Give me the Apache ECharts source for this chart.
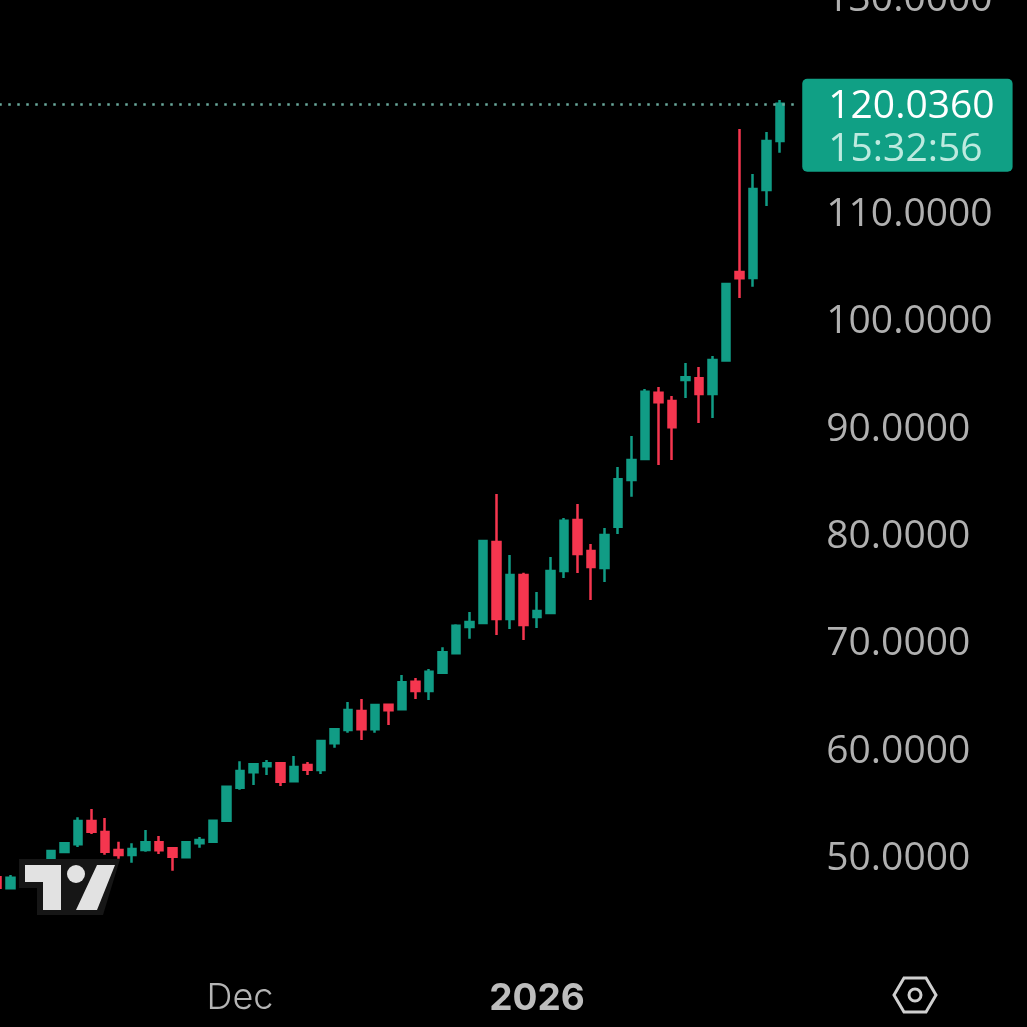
<!DOCTYPE html>
<html>
<head>
<meta charset="utf-8">
<style>
  html, body { margin: 0; padding: 0; background: #000; }
  #chart { width: 1027px; height: 1027px; }
</style>
<script src="https://cdn.jsdelivr.net/npm/echarts@6/dist/echarts.min.js"></script>
</head>
<body>
<div id="chart"></div>
<script>
// trading days, Nov 3 to Jan 29, last slot is the empty gap before the price scale
var dates = [
  '11-03','11-04','11-05','11-06','11-07','11-10','11-11','11-12','11-13','11-14',
  '11-17','11-18','11-19','11-20','11-21','11-24','11-25','11-26','12-01','12-02',
  '12-03','12-04','12-05','12-08','12-09','12-10','12-11','12-12','12-15','12-16',
  '12-17','12-18','12-19','12-22','12-23','12-24','12-26','12-29','12-30','12-31',
  '01-02','01-05','01-06','01-07','01-08','01-09','01-12','01-13','01-14','01-15',
  '01-16','01-20','01-21','01-22','01-23','01-26','01-27','01-28','01-29',''
];
var opens = [
  48.02,46.99,47.77,48.60,49.75,50.37,51.09,53.26,52.23,50.56,
  50.09,50.56,51.28,50.72,49.88,51.18,51.33,53.29,56.36,57.79,
  58.35,58.63,56.96,58.47,58.01,60.49,61.73,63.50,61.80,64.09,
  63.66,66.23,65.36,67.07,68.87,71.32,71.69,79.24,72.07,76.16,
  72.25,72.63,76.54,81.29,78.40,76.82,80.66,85.01,86.96,93.14,
  92.36,94.32,94.48,93.02,96.14,104.38,103.82,112.01,116.57
];
var closes = [
  47.05,47.98,48.70,49.44,50.47,51.18,53.26,52.26,50.40,50.09,
  50.65,51.28,50.53,49.93,51.28,51.49,53.29,56.45,57.91,58.54,
  58.63,56.92,58.29,58.04,60.71,61.80,63.59,61.80,64.06,63.57,
  66.17,65.36,67.16,68.97,71.44,71.79,79.33,72.07,76.16,71.51,
  72.81,76.54,81.22,78.12,76.91,79.89,85.07,86.87,93.23,92.24,
  89.92,94.57,93.02,96.18,103.26,103.79,112.10,116.57,120.036
];
var lows = [
  46.93,46.93,47.58,48.42,49.72,50.28,50.84,52.05,50.12,49.75,
  49.38,50.40,50.19,48.63,49.79,50.77,51.30,53.26,56.17,56.61,
  57.54,56.52,56.89,57.54,57.63,60.08,61.48,60.80,61.48,62.20,
  63.59,64.62,64.53,67.04,68.81,70.23,71.65,70.58,71.14,70.11,
  71.23,72.58,75.88,76.35,73.84,75.51,79.98,83.45,86.90,86.41,
  86.87,92.64,90.32,90.78,96.09,101.96,103.01,110.52,115.49
];
var highs = [
  48.14,48.23,48.88,49.53,50.56,51.21,53.60,54.38,53.54,51.33,
  51.18,52.42,51.86,50.84,51.37,51.77,53.35,56.52,58.82,58.66,
  58.94,58.75,59.31,58.75,60.80,61.92,64.34,64.62,64.15,64.15,
  66.85,66.57,67.41,69.43,71.57,72.72,79.38,83.71,78.03,76.38,
  74.58,77.84,81.47,82.78,79.05,80.54,86.22,89.11,93.48,93.67,
  92.83,95.90,95.53,96.56,103.31,117.69,113.50,117.41,120.39
];
var xTickLabels = { '12-01': 'Dec', '01-02': '2026' };
var yTickValues = [50, 60, 70, 80, 90, 100, 110, 130];
var lastPrice = 120.036;
var lastPriceText = '120.0360';
var countdownText = '15:32:56';

var upColor = '#119c85';
var downColor = '#f5364f';
var fontName = 'Inter, "Noto Sans", sans-serif';
var priceFont = '"Open Sans", Roboto, sans-serif';

var candles = opens.map(function (o, i) {
  return [o, closes[i], lows[i], highs[i]];
});

var myChart = echarts.init(document.getElementById('chart'));

var option = {
  backgroundColor: '#000',
  animation: false,
  grid: { left: -9.75, top: -3.2, width: 810, height: 966.6, outerBoundsMode: 'none' },
  xAxis: {
    type: 'category',
    data: dates,
    axisLine: { show: false },
    axisTick: { show: false },
    splitLine: { show: false },
    axisLabel: {
      interval: function (i, v) { return !!xTickLabels[v]; },
      formatter: function (v) {
        var t = xTickLabels[v] || '';
        return t === '2026' ? '{b|' + t + '}' : t;
      },
      color: '#b4b4b4',
      fontFamily: fontName,
      fontSize: 36,
      fontWeight: 300,
      margin: 17,
      rich: {
        b: { fontFamily: fontName, fontSize: 37, fontWeight: 700, color: '#bdbdbd' }
      }
    }
  },
  yAxis: {
    type: 'value',
    position: 'right',
    min: 40,
    max: 130,
    interval: 10,
    axisLine: { show: false },
    axisTick: { show: false },
    splitLine: { show: false },
    axisLabel: {
      formatter: function (v) {
        return yTickValues.indexOf(v) >= 0 ? '{p|' + v.toFixed(4) + '}' : '';
      },
      align: 'left',
      margin: 26,
      rich: {
        p: { fontFamily: priceFont, fontSize: 39, color: '#b0b0b0', padding: [6, 0, 0, 0] }
      }
    }
  },
  series: [
    {
      type: 'candlestick',
      data: candles,
      barWidth: 8,
      silent: true,
      itemStyle: {
        color: upColor,
        color0: downColor,
        borderColor: upColor,
        borderColor0: downColor,
        borderWidth: 2.5
      },
      markLine: {
        silent: true,
        symbol: 'none',
        animation: false,
        lineStyle: { color: '#6aa99c', type: [2.5, 6.5], width: 2.5 },
        label: {
          position: 'end',
          distance: 2,
          offset: [0, 21.5],
          formatter: '{a|' + lastPriceText + '}\n{b|' + countdownText + '}',
          backgroundColor: '#10a085',
          borderRadius: 5,
          padding: [7, 18, 1, 26],
          rich: {
            a: { fontFamily: priceFont, fontSize: 39, lineHeight: 43, color: '#ffffff' },
            b: { fontFamily: priceFont, fontSize: 39, lineHeight: 42, color: '#bdeadf' }
          }
        },
        data: [{ yAxis: lastPrice }]
      }
    }
  ],
  // tradingview logo and the settings button, fixed to the screen not to the data
  graphic: [
    {
      type: 'polygon', z: 50, silent: true,
      shape: { points: [[19, 859], [120, 859], [103, 915], [37, 915], [37, 888], [19, 888]] },
      style: { fill: '#161616' }
    },
    {
      type: 'polygon', z: 51, silent: true,
      shape: { points: [[25, 865], [61, 865], [61, 910], [43, 910], [43, 882], [25, 882]] },
      style: { fill: '#e2e2e2' }
    },
    {
      type: 'circle', z: 51, silent: true,
      shape: { cx: 76, cy: 874, r: 9 },
      style: { fill: '#e2e2e2' }
    },
    {
      type: 'polygon', z: 51, silent: true,
      shape: { points: [[97, 865], [115, 865], [97, 910], [76, 910]] },
      style: { fill: '#e2e2e2' }
    },
    {
      type: 'polygon', z: 50, silent: true,
      shape: { points: [[894, 995], [904, 978], [926, 978], [936, 995], [926, 1012], [904, 1012]] },
      style: { fill: 'none', stroke: '#cfcfcf', lineWidth: 3 }
    },
    {
      type: 'circle', z: 50, silent: true,
      shape: { cx: 915, cy: 995, r: 6 },
      style: { fill: 'none', stroke: '#cfcfcf', lineWidth: 3 }
    }
  ]
};

myChart.setOption(option);
</script>
</body>
</html>
